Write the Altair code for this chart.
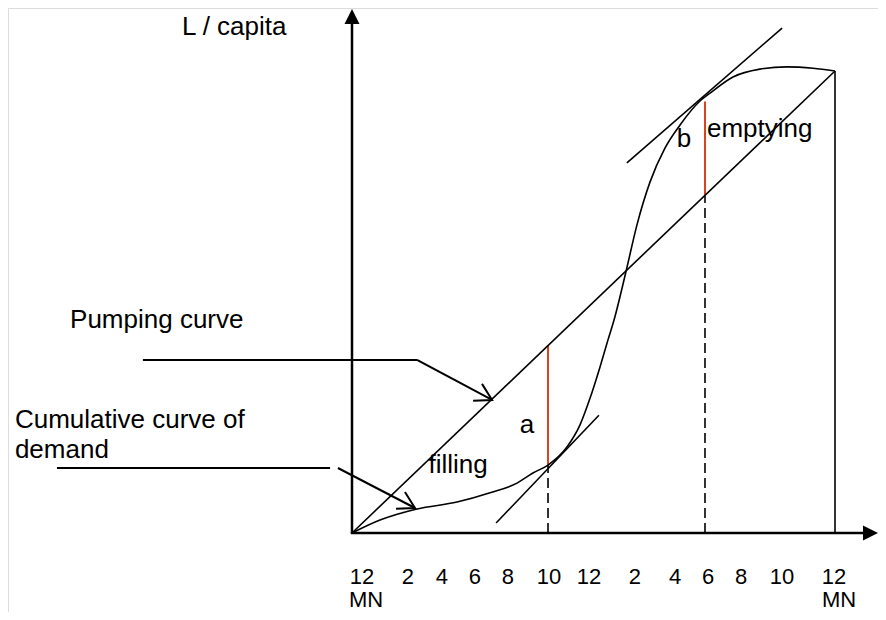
import altair as alt
import pandas as pd

# ---------------- data (x: hour of day, y: cumulative L/capita; total pumped by midnight = 100) ----------------
tick_hours = [0.50, 2.78, 4.47, 6.11, 7.75, 9.79, 11.78, 14.06, 16.05, 17.69, 19.33, 21.37, 23.95]
tick_labels = ["12", "2", "4", "6", "8", "10", "12", "2", "4", "6", "8", "10", "12"]
mn_hours = [0.70, 24.20]
mn_labels = ["MN", "MN"]

pump_hours = [0, 24]
pump_values = [0, 100]

demand_hours = [0, 1.39, 3.23, 5.22, 6.86, 8.20, 8.99, 9.74, 10.68, 11.33, 11.83, 12.32, 12.72,
                13.02, 13.61, 14.16, 14.81, 15.55, 16.30, 17.29, 17.79, 18.93, 20.27, 21.61, 22.91, 24]
demand_values = [0, 2.8, 5.2, 6.7, 8.7, 10.8, 13.0, 14.7, 18.6, 23.4, 29.2, 35.9, 41.8,
                 46.1, 56.5, 66.7, 76.0, 83.3, 88.3, 93.5, 95.2, 98.7, 100.4, 100.9, 100.6, 100]

# storage ordinates a (filling, 10 AM) and b (emptying, 6 PM)
ord_hours = [9.74, 17.54]
ord_low = [14.7, 73.1]
ord_high = [40.6, 93.4]

# tangents drawn to the demand curve
tan_h1 = [7.16, 13.66]
tan_v1 = [2.16, 80.1]
tan_h2 = [12.27, 21.37]
tan_v2 = [25.5, 109.3]

# leader lines for the two curve labels
lead_h1 = [-10.39, 3.23, -14.66, -0.70]
lead_v1 = [37.45, 37.45, 14.07, 14.07]
lead_h2 = [3.23, 6.96, -1.09, 3.13]
lead_v2 = [37.45, 28.79, 14.07, 5.41]

# annotations
left_texts = ["L / capita", "Pumping curve", "Cumulative curve of", "demand", "emptying"]
left_h = [-8.45, -14.01, -16.75, -16.75, 17.64]
left_v = [107.8, 44.4, 22.7, 16.2, 85.7]
center_texts = ["filling", "a", "b"]
center_h = [5.27, 8.70, 16.50]
center_v = [13.0, 21.65, 83.55]
tick_v = -11.05
mn_v = -16.0

# ---------------- layout ----------------
W, H = 870, 604
X0, Y0 = 344.0, 525.0       # plot-pixel position of (0 h, 0)
PXH, PXV = 20.125, 4.62     # pixels per hour / per unit
xs = alt.Scale(domain=[-X0 / PXH, (W - X0) / PXH], nice=False, zero=False)
ys = alt.Scale(domain=[-(H - Y0) / PXV, Y0 / PXV], nice=False, zero=False)
FONT = "Liberation Sans"
RED = "#d9441c"


def X(f):
    return alt.X(f, type="quantitative", scale=xs, axis=None)


def Y(f):
    return alt.Y(f, type="quantitative", scale=ys, axis=None)


def seg_chart(df, **mark):
    return alt.Chart(df).mark_rule(**mark).encode(
        x=X("h1"), y=Y("v1"), x2=alt.X2("h2"), y2=alt.Y2("v2"))


x_top = (W - X0) / PXH
y_top = (Y0 - 1) / PXV

axes_df = pd.DataFrame({"h1": [0, -0.06], "v1": [0, 0],
                        "h2": [0, x_top - 0.6], "v2": [y_top - 3.0, 0]})
axes = seg_chart(axes_df, color="black", strokeWidth=2.5)

arrow_up = alt.Chart(pd.DataFrame({"h": [0], "v": [y_top - 7.5 / PXV]})).mark_point(
    shape="M0,-1L1,1L-1,1Z", size=225, filled=True, color="black", opacity=1, strokeWidth=0
).encode(x=X("h"), y=Y("v"))
arrow_right = alt.Chart(pd.DataFrame({"h": [x_top - 7.5 / PXH], "v": [0]})).mark_point(
    shape="M1,0L-1,-1L-1,1Z", size=225, filled=True, color="black", opacity=1, strokeWidth=0
).encode(x=X("h"), y=Y("v"))

right_df = pd.DataFrame({"h1": [24], "v1": [0], "h2": [24], "v2": [100]})
right_line = seg_chart(right_df, color="black", strokeWidth=1.6)

pump = alt.Chart(pd.DataFrame({"h": pump_hours, "v": pump_values})).mark_line(
    color="black", strokeWidth=1.6).encode(x=X("h"), y=Y("v"))

demand = alt.Chart(pd.DataFrame({"h": demand_hours, "v": demand_values})).mark_line(
    color="black", strokeWidth=1.6, interpolate="monotone").encode(x=X("h"), y=Y("v"))

tan_df = pd.DataFrame({"h1": tan_h1, "v1": tan_v1, "h2": tan_h2, "v2": tan_v2})
tangents = seg_chart(tan_df, color="black", strokeWidth=1.6)

red_df = pd.DataFrame({"h1": ord_hours, "v1": ord_low, "h2": ord_hours, "v2": ord_high})
reds = seg_chart(red_df, color=RED, strokeWidth=2)

dash_df = pd.DataFrame({"h1": ord_hours, "v1": [0, 0], "h2": ord_hours, "v2": ord_low})
dashes = seg_chart(dash_df, color="black", strokeWidth=1.6, strokeDash=[10, 5])

lead_df = pd.DataFrame({"h1": lead_h1, "v1": lead_v1, "h2": lead_h2, "v2": lead_v2})
leaders = seg_chart(lead_df, color="black", strokeWidth=2)

tips = alt.Chart(pd.DataFrame({"h": [lead_h2[1], lead_h2[3]], "v": [lead_v2[1], lead_v2[3]]})).mark_point(
    shape="M-1,-0.577L0,0L-1,0.577", size=1080, filled=False, color="black", opacity=1,
    strokeWidth=2, angle=28).encode(x=X("h"), y=Y("v"))

txt_left = alt.Chart(pd.DataFrame({"h": left_h, "v": left_v, "t": left_texts})).mark_text(
    align="left", baseline="alphabetic", font=FONT, fontSize=26, color="black"
).encode(x=X("h"), y=Y("v"), text="t:N")

txt_center = alt.Chart(pd.DataFrame({"h": center_h, "v": center_v, "t": center_texts})).mark_text(
    align="center", baseline="alphabetic", font=FONT, fontSize=26, color="black"
).encode(x=X("h"), y=Y("v"), text="t:N")

ticks = alt.Chart(pd.DataFrame({"h": tick_hours, "v": [tick_v] * len(tick_hours), "t": tick_labels})).mark_text(
    align="center", baseline="alphabetic", font=FONT, fontSize=22, color="black"
).encode(x=X("h"), y=Y("v"), text="t:N")

mns = alt.Chart(pd.DataFrame({"h": mn_hours, "v": [mn_v] * 2, "t": mn_labels})).mark_text(
    align="center", baseline="alphabetic", font=FONT, fontSize=22, color="black"
).encode(x=X("h"), y=Y("v"), text="t:N")

chart = alt.layer(
    dashes, reds, tangents, pump, demand, right_line, leaders, tips,
    axes, arrow_up, arrow_right, txt_left, txt_center, ticks, mns
).properties(
    width=W, height=H, padding=0, autosize=alt.AutoSizeParams(type="none")
).configure_view(stroke=None).configure(background="white")

chart.save("out.html", embed_options={"renderer": "svg", "actions": False})
